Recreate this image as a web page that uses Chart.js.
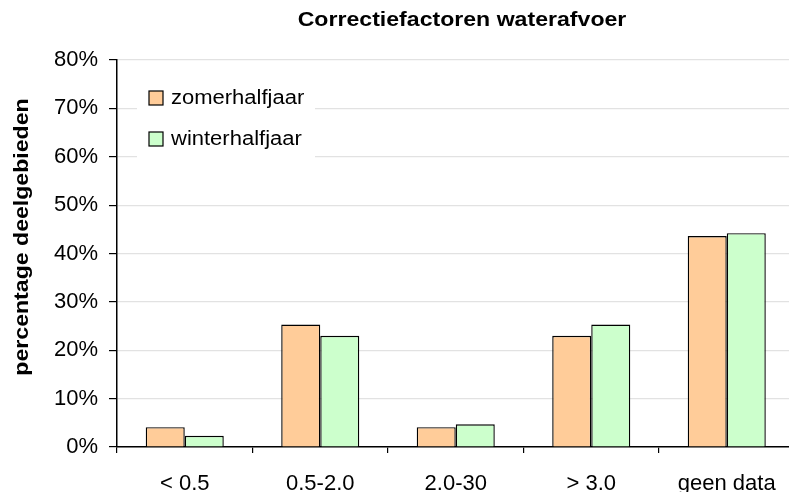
<!DOCTYPE html>
<html>
<head>
<meta charset="utf-8">
<script src="https://cdn.jsdelivr.net/npm/chart.js@4"></script>
<style>
  html, body { margin: 0; padding: 0; background: #fff; overflow: hidden; }
  #wrap { width: 800px; height: 492px; }
</style>
</head>
<body>
<div id="wrap"><canvas id="chart" width="800" height="492"></canvas></div>
<script>
const categories = ["< 0.5", "0.5-2.0", "2.0-30", "> 3.0", "geen data"];
const zomerValues = [4.1, 25.3, 4.1, 23.0, 43.6];
const winterValues = [2.3, 23.0, 4.7, 25.3, 44.2];
const seriesNames = ["zomerhalfjaar", "winterhalfjaar"];
const yTicks = [0, 10, 20, 30, 40, 50, 60, 70, 80];
const chartTitle = "Correctiefactoren waterafvoer";
const yLabel = "percentage deelgebieden";

const FONT = "'Liberation Sans', Arial, sans-serif";
const STRETCH = 1.1; // the original text is a bit wide

function wideText(ctx, text, x, y) {
  ctx.save();
  ctx.translate(x, y);
  ctx.scale(STRETCH, 1);
  ctx.fillText(text, 0, 0);
  ctx.restore();
}

// title, y-label and the boxed legend inside the plot area
const decorations = {
  id: "decorations",
  afterDraw(chart) {
    const ctx = chart.ctx;
    const area = chart.chartArea;
    ctx.save();
    ctx.fillStyle = "#000";
    ctx.textBaseline = "middle";

    ctx.font = "bold 21px " + FONT;
    ctx.textAlign = "center";
    wideText(ctx, chartTitle, 462, 20);

    ctx.save();
    ctx.translate(22, 237);
    ctx.rotate(-Math.PI / 2);
    wideText(ctx, yLabel, 0, 0);
    ctx.restore();

    // legend
    const lx = area.left + 20, ly = area.top + 5;
    ctx.fillStyle = "#fff";
    ctx.fillRect(lx, ly, 178, 116);
    ctx.font = "20px " + FONT;
    ctx.textAlign = "left";
    chart.data.datasets.forEach((ds, i) => {
      const cy = area.top + 38 + i * 41;
      ctx.fillStyle = ds.backgroundColor;
      ctx.fillRect(area.left + 32, cy - 7, 14, 14);
      ctx.strokeStyle = "#000";
      ctx.lineWidth = 1.2;
      ctx.strokeRect(area.left + 32, cy - 7, 14, 14);
      ctx.fillStyle = "#000";
      wideText(ctx, ds.label, area.left + 54, cy);
    });
    ctx.restore();
  }
};

new Chart(document.getElementById("chart"), {
  type: "bar",
  data: {
    labels: categories,
    datasets: [
      { label: seriesNames[0], data: zomerValues, backgroundColor: "#FFCC99", borderColor: "#000", borderWidth: 1.4 },
      { label: seriesNames[1], data: winterValues, backgroundColor: "#CCFFCC", borderColor: "#000", borderWidth: 1.4 }
    ]
  },
  options: {
    responsive: false,
    animation: false,
    layout: { padding: { left: 0, right: 5.5, top: 60, bottom: 0 } },
    datasets: { bar: { categoryPercentage: 0.576, barPercentage: 1.0 } },
    plugins: { legend: { display: false }, title: { display: false }, tooltip: { enabled: false } },
    scales: {
      x: {
        offset: true,
        grid: { offset: true, drawOnChartArea: false, drawTicks: true, tickLength: 6, color: "#000", lineWidth: 1.2 },
        border: { color: "#000", width: 1.5 },
        ticks: { color: "#000", font: { family: FONT, size: 22 }, padding: 18, maxRotation: 0 },
        afterFit(scale) { scale.height = 45; }
      },
      y: {
        min: 0,
        max: 80,
        afterBuildTicks(scale) { scale.ticks = yTicks.map(v => ({ value: v })); },
        grid: { color: "#e2e2e2", lineWidth: 1.2, tickColor: "#000", tickLength: 8 },
        border: { color: "#000", width: 1.5 },
        ticks: { color: "#000", font: { family: FONT, size: 22 }, padding: 11, callback: v => v + "%" },
        afterFit(scale) { scale.width = 117; }
      }
    }
  },
  plugins: [decorations]
});
</script>
</body>
</html>
